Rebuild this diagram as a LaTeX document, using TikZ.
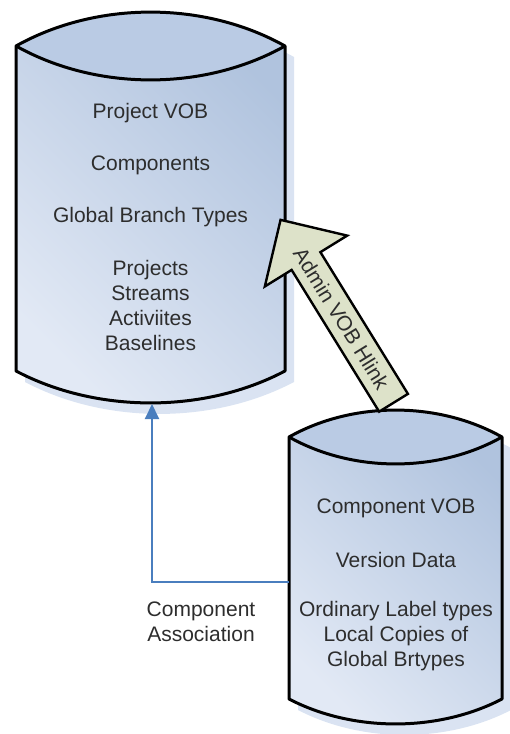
\documentclass[tikz,border=0pt]{standalone}
\usepackage{fontspec}
\setmainfont{Liberation Sans}
\usetikzlibrary{arrows.meta,shapes.arrows}
\definecolor{voblight}{RGB}{226,233,245}
\definecolor{vobdark}{RGB}{176,195,222}
\definecolor{vobtop}{RGB}{186,203,228}
\definecolor{vobshadow}{RGB}{218,227,242}
\definecolor{hlinkfill}{RGB}{221,226,201}
\definecolor{assocblue}{RGB}{74,126,190}
\definecolor{inkgray}{RGB}{45,45,45}

\begin{document}
\begin{tikzpicture}[x=0.5pt,y=-0.5pt,
    vobline/.style={line width=1.5pt,line join=round},
    voblabel/.style={text=inkgray,font=\fontsize{10.5}{12.5}\selectfont,align=center},
    hlink/.style={single arrow,shape border rotate=180,draw,line width=1.2pt,fill=hlinkfill,
      rotate=-58.3,minimum height=107.5pt,single arrow head extend=15.75pt,single arrow tip angle=90,
      inner xsep=0pt,inner ysep=4pt,text=inkgray,font=\fontsize{10.5}{12.5}\selectfont},
    assoc/.style={draw=assocblue,line width=1pt,-{Triangle[width=7pt,length=7.5pt]}}]
  \useasboundingbox (0,0) rectangle (509,734);
  % the two VOB cylinders: left/right/top corner/bottom corner/top bulge/bottom bulge
  \foreach \l/\r/\t/\b/\st/\sb in {16/285/46/371/34/32,289/502/437/699/27/25}{
    \fill[vobshadow,shift={(9,11)}] (\l,\t) -- (\l,\b)
      .. controls ({\l+0.3*(\r-\l)},{\b+1.33*\sb}) and ({\r-0.3*(\r-\l)},{\b+1.33*\sb}) .. (\r,\b)
      -- (\r,\t) .. controls ({\r-0.3*(\r-\l)},{\t-1.33*\st}) and ({\l+0.3*(\r-\l)},{\t-1.33*\st}) .. cycle;
    \shade[bottom color=voblight,top color=vobdark,shading angle=-45] (\l,\t) -- (\l,\b)
      .. controls ({\l+0.3*(\r-\l)},{\b+1.33*\sb}) and ({\r-0.3*(\r-\l)},{\b+1.33*\sb}) .. (\r,\b)
      -- (\r,\t) .. controls ({\r-0.3*(\r-\l)},{\t-1.33*\st}) and ({\l+0.3*(\r-\l)},{\t-1.33*\st}) .. cycle;
    \fill[vobtop] (\l,\t)
      .. controls ({\l+0.3*(\r-\l)},{\t-1.33*\st}) and ({\r-0.3*(\r-\l)},{\t-1.33*\st}) .. (\r,\t)
      .. controls ({\r-0.3*(\r-\l)},{\t+1.33*\st}) and ({\l+0.3*(\r-\l)},{\t+1.33*\st}) .. cycle;
    \draw[vobline] (\l,\t) -- (\l,\b)
      .. controls ({\l+0.3*(\r-\l)},{\b+1.33*\sb}) and ({\r-0.3*(\r-\l)},{\b+1.33*\sb}) .. (\r,\b)
      -- (\r,\t) .. controls ({\r-0.3*(\r-\l)},{\t-1.33*\st}) and ({\l+0.3*(\r-\l)},{\t-1.33*\st}) .. cycle;
    \draw[vobline] (\l,\t)
      .. controls ({\l+0.3*(\r-\l)},{\t+1.33*\st}) and ({\r-0.3*(\r-\l)},{\t+1.33*\st}) .. (\r,\t);
  }
  % contents
  \foreach \txt/\y [count=\i] in {Project VOB/113,Components/165,Global Branch Types/217,
      {Projects\\Streams\\Activiites\\Baselines}/305.5}
    \node[voblabel] (proj\i) at (150.5,\y) {\txt};
  \foreach \txt/\y [count=\i] in {Component VOB/508,Version Data/560,
      {Ordinary Label types\\Local Copies of\\Global Brtypes}/636}
    \node[voblabel] (comp\i) at (396,\y) {\txt};
  % component association
  \coordinate (projbase) at (152,404);
  \coordinate (compside) at (289,582);
  \draw[assoc] (compside) -| (projbase);
  \node[voblabel] (assoclabel) at (201,622) {Component\\Association};
  % hyperlink arrow
  \node[hlink] (hlink) at (341.5,318.5) {Admin VOB Hlink};
\end{tikzpicture}
\end{document}
